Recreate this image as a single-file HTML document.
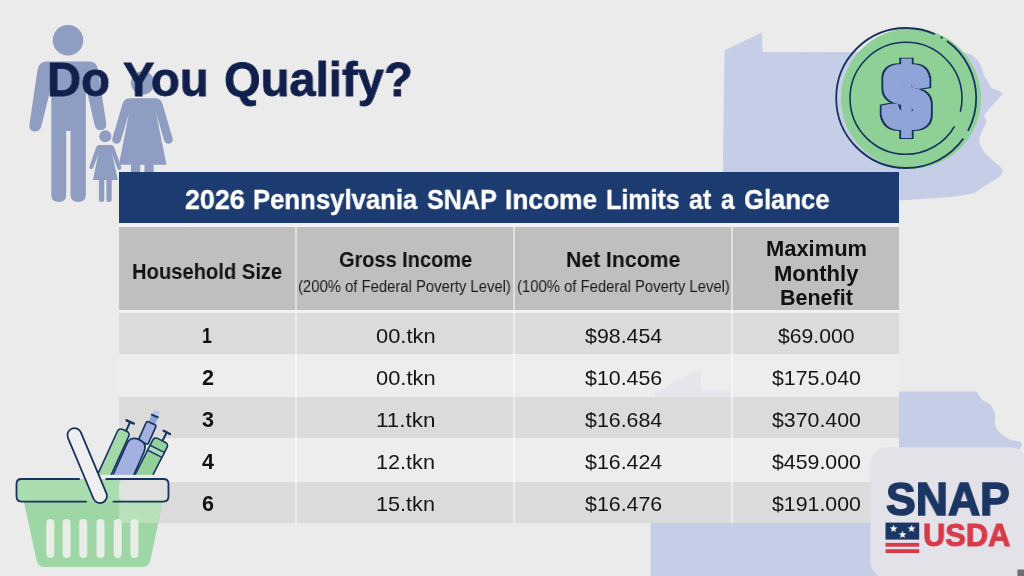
<!DOCTYPE html>
<html><head><meta charset="utf-8">
<style>
html,body{margin:0;padding:0;}
body{width:1024px;height:576px;overflow:hidden;background:#ebebeb;position:relative;font-family:"Liberation Sans",sans-serif;}
svg.layer{position:absolute;left:0;top:0;width:1024px;height:576px;}
.bx{position:absolute;}
.t{position:absolute;white-space:nowrap;transform-origin:0 0;color:#111;will-change:transform;}
.b{font-weight:bold;}
#bar{left:119px;top:172px;width:780px;height:51px;background:#1c3b71;}
.hd{background:#bfbfbf;left:119px;width:780px;top:227px;height:83.4px;}
.row{left:119px;width:780px;}
.dk{background:#dbdbdb;}
.lt{background:#ededed;}
.vd{top:227px;height:296px;width:1.6px;background:rgba(255,255,255,0.5);}
#tblbg{left:119px;top:223px;width:780px;height:92px;background:#f2f2f2;}
</style></head><body>
<svg class="layer" viewBox="0 0 1024 576">

<!-- PA map top right -->
<polygon fill="#c6cee7" points="724.5,50.6 761.9,32.5 762.5,52.2 963.3,52 972,55 978.9,61.6 982,69 984,75.5 988,82 991,87.7 997,90 1003,93 999,98 994.5,103.3 989,109 984,115.4 986,120 985.8,124 981,133 978.9,141.4 981,147 984,151.9 989,157 994.5,162.3 1000,166 1003.2,171 1001,175 998,177.9 991,182 984,186.5 979,190 973.7,193.5 961,195.5 949.4,197 899,200.4 722.5,200.4"/>
<!-- PA map bottom right -->
<path fill="#c5cde7" d="M650.6,576 V500 H899 V391.5 H976.4 L980,397 Q982,401 986,402 Q990,403 991.5,406.5 Q993,410 994.6,411.6 Q996,416 994.6,421.1 Q995,426 996.5,428.8 Q999,433 1004,435.4 Q1008,439 1011.8,440.2 Q1017,440.5 1020.4,442 Q1023,444 1021.3,447 Q1019,451 1013.7,453 L1013,576 Z"/>
<!-- family -->
<g fill="#8e9dc1" id="fam">
 <circle cx="68" cy="40.2" r="15.3"/>
 <path d="M47,61.6 H89 Q97,61.6 98,70 L106.3,124 Q106.5,130 100.5,130 Q95.5,130 94.6,125 L85.8,86 V195 Q85.8,202 78.2,202 Q70.5,202 70.5,195 V131 H66.2 V195 Q66.2,202 58.7,202 Q51.3,202 51.3,195 V86 L41.4,126 Q40,131.5 34.5,131.5 Q28.5,131 29.5,124 L37.5,70 Q39,61.6 47,61.6 Z"/>
 <circle cx="142.7" cy="82.9" r="11.7"/>
 <path d="M130,98.2 H155 Q161,98.2 162.5,104 L172.5,138 Q173.5,142.5 169.5,143.5 Q165.5,144.5 164,140 L156,113 L166.5,164.7 H153.7 V175 H144.5 V164.7 H140.2 V175 H131 V164.7 H118.9 L129,113 L121,140 Q119.5,144.5 115.5,143.5 Q111.5,142.5 112.5,138 L122.5,104 Q124,98.2 130,98.2 Z"/>
 <circle cx="105.3" cy="136.2" r="6"/>
 <path d="M99.5,145.1 H111 Q113.6,145.1 114.4,148 L121.2,167 Q121.8,169.2 120,169.8 Q118,170.3 117.2,168.3 L112.2,154 L117.8,180 H111.7 V199.5 Q111.7,202 109,202 Q106.4,202 106.4,199.5 V180 H104.3 V199.5 Q104.3,202 101.6,202 Q98.9,202 98.9,199.5 V180 H92.9 L98.3,154 L93.4,167.5 Q92.6,169.5 90.7,169 Q88.8,168.3 89.5,166.2 L96,148 Q96.8,145.1 99.5,145.1 Z"/>
</g>
</svg>
<div class="bx" id="tblbg"></div>
<div class="bx" id="bar"></div>
<div class="bx hd"></div>
<div class="bx row dk" style="top:312.5px;height:41px"></div>
<div class="bx row lt" style="top:353.5px;height:43.5px"></div>
<div class="bx row dk" style="top:397px;height:41px"></div>
<div class="bx row lt" style="top:438px;height:43.8px"></div>
<div class="bx row dk" style="top:481.8px;height:41px"></div>
<svg class="layer" viewBox="0 0 1024 576"><polygon fill="#c4cbe6" opacity="0.22" points="655.3,392.4 700.4,368.8 701.2,390.3 732.6,390.6 732.6,397 655.3,397"/></svg>
<div class="bx vd" style="left:295.3px"></div><div class="bx vd" style="left:513.1px"></div><div class="bx vd" style="left:731.1px"></div>
<svg class="layer" viewBox="0 0 1024 576">
<!-- coin -->
<g id="coin">
 <circle cx="911" cy="98.5" r="70" fill="#8fd096"/>
 <circle cx="906.2" cy="98" r="70" fill="none" stroke="#17335f" stroke-width="1.8" stroke-dasharray="34.2 8.9 316 6.1 2.45 5.15 67.0 0"/>
 <circle cx="906" cy="98.3" r="56" fill="none" stroke="#17335f" stroke-width="1.6" stroke-dasharray="13.68 15.64 322.54 0"/>
 <filter id="fat" x="-30%" y="-30%" width="160%" height="160%">
  <feMorphology in="SourceAlpha" operator="dilate" radius="5.2" result="o"/>
  <feFlood flood-color="#17335f"/><feComposite in2="o" operator="in" result="oc"/>
  <feMorphology in="SourceAlpha" operator="dilate" radius="3.6" result="i"/>
  <feFlood flood-color="#8fa5d8"/><feComposite in2="i" operator="in" result="ic"/>
  <feMerge><feMergeNode in="oc"/><feMergeNode in="ic"/></feMerge>
 </filter>
 <text x="0" y="127.8" transform="translate(906.3,0) scale(0.94,1)" font-family="Liberation Sans, sans-serif" font-weight="bold" font-size="87" text-anchor="middle" fill="#8fa5d8" filter="url(#fat)">$</text>
</g>
<!-- basket -->
<g id="basket">
 <!-- bottles -->
 <g transform="translate(123.2,433.6) rotate(24.6)">
  <line x1="1.5" y1="-3" x2="1.5" y2="-13" stroke="#17335f" stroke-width="2"/>
  <line x1="-2.5" y1="-13.5" x2="5.5" y2="-13.5" stroke="#17335f" stroke-width="2.4" stroke-linecap="round"/>
  <rect x="-6.2" y="-3.5" width="12.4" height="56" rx="3.5" fill="#a4d8a8" stroke="#17335f" stroke-width="1.6"/>
 </g>
 <g transform="translate(160,443.5) rotate(27)">
  <line x1="1" y1="-3" x2="1" y2="-12.5" stroke="#17335f" stroke-width="2"/>
  <line x1="-2.5" y1="-13" x2="4.5" y2="-13" stroke="#17335f" stroke-width="2.4" stroke-linecap="round"/>
  <rect x="-8" y="-3.5" width="16" height="50" rx="3.5" fill="#93d09a" stroke="#17335f" stroke-width="1.6"/>
  <rect x="-8" y="6" width="16" height="5.5" fill="#a9dcc0" stroke="#17335f" stroke-width="1.4"/>
 </g>
 <g transform="translate(138.5,441) rotate(24)">
  <g transform="translate(4.5,-1.5)">
  <rect x="-3" y="-33.5" width="6.5" height="5.5" fill="#b9c7ea"/>
  <rect x="-3.2" y="-28" width="7" height="8" fill="#8fa3d8"/>
  <line x1="-3.8" y1="-28" x2="4.3" y2="-28" stroke="#17335f" stroke-width="2"/>
  <rect x="-5" y="-20" width="10.5" height="21" rx="1.5" fill="#a3b1e0" stroke="#17335f" stroke-width="1.7"/>
  </g>
  <path d="M-9.5,45 V8 Q-9.5,-1.5 0,-1.5 Q9.5,-1.5 9.5,8 V45 Z" fill="#a3b1e0" stroke="#17335f" stroke-width="1.7"/>
 </g>
 <!-- body -->
 <path d="M23.5,500 H163 L150.5,560 Q149,567 142,567 H44 Q38,567 36.5,560 Z" fill="#9fd6a5"/>
 <path d="M119,500 H163 L158.2,523 H119 Z" fill="#b8e0bb"/>
 <g fill="#e6eee6">
  <rect x="46.3" y="519" width="8" height="39" rx="4"/>
  <rect x="62.6" y="519" width="8" height="39" rx="4"/>
  <rect x="79.2" y="519" width="8" height="39" rx="4"/>
  <rect x="96.5" y="519" width="8" height="39" rx="4"/>
  <rect x="113.8" y="519" width="8" height="39" rx="4"/>
  <rect x="130.4" y="519" width="8" height="39" rx="4"/>
 </g>
 <!-- rim -->
 <rect x="98" y="474.8" width="70" height="5" fill="#ececec"/>
 <rect x="16.5" y="479" width="152" height="22.6" rx="5" fill="#a9dcae"/>
 <rect x="119" y="480" width="48.5" height="20.6" rx="4" fill="#e1e1e1"/>
 <path d="M79.1,479 H21.5 Q16.5,479 16.5,484 V496.6 Q16.5,501.6 21.5,501.6 H86.2 M113.4,501.6 H163.5 Q168.5,501.6 168.5,496.6 V484 Q168.5,479 163.5,479 H106.3" fill="none" stroke="#17335f" stroke-width="1.8" stroke-linecap="round"/>
 <!-- handle -->
 <g transform="translate(87.2,465.6) rotate(-22.8)">
  <rect x="-7" y="-40" width="14" height="80" rx="7" fill="#efefef" stroke="#17335f" stroke-width="1.8"/>
 </g>
</g>
<!-- logo -->
<g id="logo">
 <rect x="870.3" y="447.2" width="157" height="131" rx="17" fill="#e2e2e8"/>
 <rect x="885.5" y="522.6" width="33.7" height="17" fill="#1b3663"/>
 <g fill="#ffffff" font-family="DejaVu Sans, sans-serif" font-size="10" text-anchor="middle">
  <text x="893.6" y="532">★</text><text x="902.5" y="537.6">★</text><text x="911.6" y="532">★</text>
 </g>
 <rect x="885.5" y="542.9" width="33.7" height="3.8" fill="#d93a4a"/>
 <rect x="885.5" y="549.2" width="33.7" height="3.8" fill="#d93a4a"/>
 <rect x="1017.4" y="569.5" width="7" height="7" fill="#6f6f6f"/>
</g>
<!-- faint map through table -->
</svg>

<span class="t b" style="left:47.4px;top:50.0px;font-size:48.5px;line-height:58.2px;transform:scaleX(0.9738);color:#101f4c;-webkit-text-stroke:0.8px #101f4c;">Do</span>
<span class="t b" style="left:123.4px;top:50.0px;font-size:48.5px;line-height:58.2px;transform:scaleX(0.9721);color:#101f4c;-webkit-text-stroke:0.8px #101f4c;">You</span>
<span class="t b" style="left:224.3px;top:50.0px;font-size:48.5px;line-height:58.2px;transform:scaleX(0.9723);color:#101f4c;-webkit-text-stroke:0.8px #101f4c;">Qualify?</span>
<span class="t b" style="left:184.5px;top:181.5px;font-size:28.5px;line-height:34.2px;transform:scaleX(0.9429);color:#ffffff;-webkit-text-stroke:0.4px #ffffff;">2026</span>
<span class="t b" style="left:253.3px;top:181.5px;font-size:28.5px;line-height:34.2px;transform:scaleX(0.9016);color:#ffffff;-webkit-text-stroke:0.4px #ffffff;">Pennsylvania</span>
<span class="t b" style="left:427.4px;top:181.5px;font-size:28.5px;line-height:34.2px;transform:scaleX(0.8808);color:#ffffff;-webkit-text-stroke:0.4px #ffffff;">SNAP</span>
<span class="t b" style="left:505.1px;top:181.5px;font-size:28.5px;line-height:34.2px;transform:scaleX(0.9222);color:#ffffff;-webkit-text-stroke:0.4px #ffffff;">Income</span>
<span class="t b" style="left:606.4px;top:181.5px;font-size:28.5px;line-height:34.2px;transform:scaleX(0.8793);color:#ffffff;-webkit-text-stroke:0.4px #ffffff;">Limits</span>
<span class="t b" style="left:689.0px;top:181.5px;font-size:28.5px;line-height:34.2px;transform:scaleX(0.8846);color:#ffffff;-webkit-text-stroke:0.4px #ffffff;">at</span>
<span class="t b" style="left:720.6px;top:181.5px;font-size:28.5px;line-height:34.2px;transform:scaleX(0.8471);color:#ffffff;-webkit-text-stroke:0.4px #ffffff;">a</span>
<span class="t b" style="left:744.0px;top:181.5px;font-size:28.5px;line-height:34.2px;transform:scaleX(0.9000);color:#ffffff;-webkit-text-stroke:0.4px #ffffff;">Glance</span>
<span class="t b" style="left:132.0px;top:259.5px;font-size:21.5px;line-height:25.8px;transform:scaleX(0.9384);">Household Size</span>
<span class="t b" style="left:339.0px;top:247.5px;font-size:21.5px;line-height:25.8px;transform:scaleX(0.9280);">Gross Income</span>
<span class="t" style="left:297.9px;top:277.0px;font-size:16px;line-height:19.2px;transform:scaleX(0.9276);color:#1a1a1a;">(200% of Federal Poverty Level)</span>
<span class="t b" style="left:565.6px;top:247.5px;font-size:21.5px;line-height:25.8px;transform:scaleX(0.9861);">Net Income</span>
<span class="t" style="left:516.8px;top:277.0px;font-size:16px;line-height:19.2px;transform:scaleX(0.9276);color:#1a1a1a;">(100% of Federal Poverty Level)</span>
<span class="t b" style="left:765.5px;top:236.5px;font-size:21.5px;line-height:25.8px;transform:scaleX(1.0184);">Maximum</span>
<span class="t b" style="left:773.9px;top:261.5px;font-size:21.5px;line-height:25.8px;transform:scaleX(1.0247);">Monthly</span>
<span class="t b" style="left:779.6px;top:286.0px;font-size:21.5px;line-height:25.8px;transform:scaleX(0.9944);">Benefit</span>
<span class="t b" style="left:886.3px;top:471.5px;font-size:46px;line-height:55.2px;transform:scaleX(0.9688);color:#1b3663;-webkit-text-stroke:1.6px #1b3663;">SNAP</span>
<span class="t b" style="left:922.5px;top:516.0px;font-size:32px;line-height:38.4px;transform:scaleX(0.9644);color:#d93a4a;-webkit-text-stroke:1.0px #d93a4a;">USDA</span>
<span class="t b" style="left:201.8px;top:324.0px;font-size:21.5px;line-height:25.8px;transform:scaleX(0.8182);">1</span>
<span class="t" style="left:375.6px;top:322.5px;font-size:21px;line-height:25.2px;transform:scaleX(1.0421);color:#151515;">00.tkn</span>
<span class="t" style="left:585.0px;top:322.5px;font-size:21px;line-height:25.2px;transform:scaleX(1.0173);color:#151515;">$98.454</span>
<span class="t" style="left:777.8px;top:322.5px;font-size:21px;line-height:25.2px;transform:scaleX(1.0079);color:#151515;">$69.000</span>
<span class="t b" style="left:201.6px;top:366.0px;font-size:21.5px;line-height:25.8px;transform:scaleX(0.9667);">2</span>
<span class="t" style="left:375.6px;top:364.5px;font-size:21px;line-height:25.2px;transform:scaleX(1.0421);color:#151515;">00.tkn</span>
<span class="t" style="left:585.0px;top:364.5px;font-size:21px;line-height:25.2px;transform:scaleX(1.0173);color:#151515;">$10.456</span>
<span class="t" style="left:772.3px;top:364.5px;font-size:21px;line-height:25.2px;transform:scaleX(1.0149);color:#151515;">$175.040</span>
<span class="t b" style="left:201.6px;top:408.0px;font-size:21.5px;line-height:25.8px;transform:scaleX(0.9667);">3</span>
<span class="t" style="left:376.2px;top:406.5px;font-size:21px;line-height:25.2px;transform:scaleX(1.0685);color:#151515;">11.tkn</span>
<span class="t" style="left:585.0px;top:406.5px;font-size:21px;line-height:25.2px;transform:scaleX(1.0173);color:#151515;">$16.684</span>
<span class="t" style="left:772.3px;top:406.5px;font-size:21px;line-height:25.2px;transform:scaleX(1.0149);color:#151515;">$370.400</span>
<span class="t b" style="left:201.6px;top:450.0px;font-size:21.5px;line-height:25.8px;transform:scaleX(0.9667);">4</span>
<span class="t" style="left:376.3px;top:448.5px;font-size:21px;line-height:25.2px;transform:scaleX(1.0304);color:#151515;">12.tkn</span>
<span class="t" style="left:585.0px;top:448.5px;font-size:21px;line-height:25.2px;transform:scaleX(1.0173);color:#151515;">$16.424</span>
<span class="t" style="left:772.3px;top:448.5px;font-size:21px;line-height:25.2px;transform:scaleX(1.0149);color:#151515;">$459.000</span>
<span class="t b" style="left:201.6px;top:492.0px;font-size:21.5px;line-height:25.8px;transform:scaleX(0.9667);">6</span>
<span class="t" style="left:376.3px;top:490.5px;font-size:21px;line-height:25.2px;transform:scaleX(1.0304);color:#151515;">15.tkn</span>
<span class="t" style="left:585.0px;top:490.5px;font-size:21px;line-height:25.2px;transform:scaleX(1.0173);color:#151515;">$16.476</span>
<span class="t" style="left:772.3px;top:490.5px;font-size:21px;line-height:25.2px;transform:scaleX(1.0149);color:#151515;">$191.000</span>
</body></html>
